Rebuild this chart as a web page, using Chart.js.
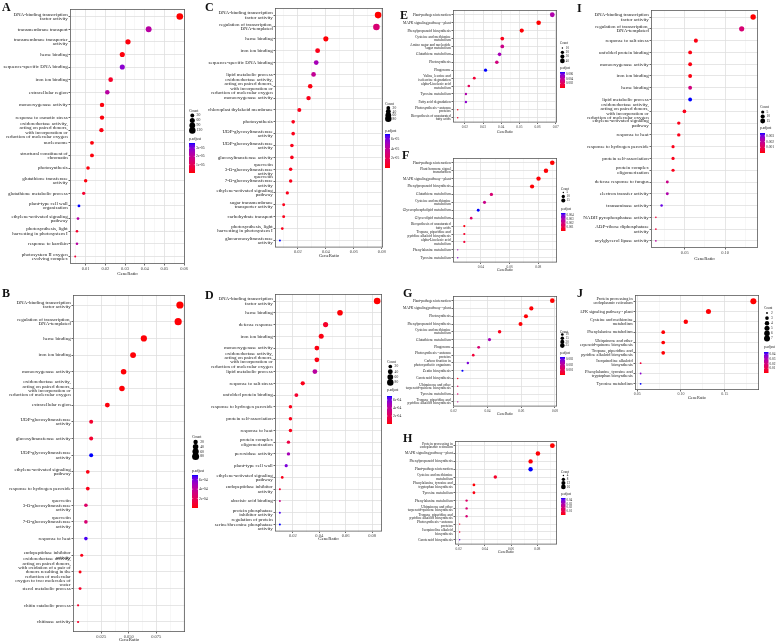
<!DOCTYPE html>
<html>
<head>
<meta charset="utf-8">
<script src="https://cdn.jsdelivr.net/npm/chart.js@4.4.0/dist/chart.umd.min.js"></script>
<style>
  body { margin: 0; background: #fff; }
  #fig { position: relative; width: 777px; height: 643px; overflow: hidden; background: #fff; }
  #fig canvas { position: absolute; }
  .tag { position: absolute; font-family: "Liberation Serif", serif; font-weight: bold; font-size: 12px; line-height: 12px; color: #111; }
</style>
</head>
<body>
<div id="fig"></div>
<script>
// ---------- panel A ----------
const termsA = ["DNA-binding transcription\nfactor activity", "transmembrane transport", "transmembrane transporter\nactivity", "heme binding", "sequence-specific DNA binding", "iron ion binding", "extracellular region", "monooxygenase activity", "response to osmotic stress", "oxidoreductase activity,\nacting on paired donors,\nwith incorporation or\nreduction of molecular oxygen", "nucleosome", "structural constituent of\nchromatin", "photosynthesis", "glutathione transferase\nactivity", "glutathione metabolic process", "plant-type cell wall\norganization", "ethylene-activated signaling\npathway", "photosynthesis, light\nharvesting in photosystem I", "response to karrikin", "photosystem II oxygen\nevolving complex"];
const ratioA = [0.0578, 0.0420, 0.0315, 0.0286, 0.0286, 0.0227, 0.0210, 0.0183, 0.0183, 0.0180, 0.0132, 0.0132, 0.0112, 0.0100, 0.0090, 0.0066, 0.0061, 0.0056, 0.0056, 0.0047];
const countA = [125, 91, 68, 62, 62, 49, 45, 40, 40, 39, 29, 29, 24, 22, 19, 14, 13, 12, 12, 10];
const padjA = [1e-9, 2.2e-5, 7e-7, 7e-7, 2.9e-5, 3.6e-6, 2.2e-5, 7e-7, 7e-7, 1.1e-6, 7e-7, 7e-7, 7e-7, 7e-7, 4.3e-6, 3.6e-5, 2.2e-5, 3.6e-6, 2.2e-5, 5.4e-6];
const ticksA = ["0.01", "0.02", "0.03", "0.04", "0.05", "0.06"];
const countKeysA = [30, 60, 90, 120];
const padjKeysA = ["3e-05", "2e-05", "1e-05"];

// ---------- panel B ----------
const termsB = ["DNA-binding transcription\nfactor activity", "regulation of transcription,\nDNA-templated", "heme binding", "iron ion binding", "monooxygenase activity", "oxidoreductase activity,\nacting on paired donors,\nwith incorporation or\nreduction of molecular oxygen", "extracellular region", "UDP-glucosyltransferase\nactivity", "glucosyltransferase activity", "UDP-glycosyltransferase\nactivity", "ethylene-activated signaling\npathway", "response to hydrogen peroxide", "quercetin\n3-O-glucosyltransferase\nactivity", "quercetin\n7-O-glucosyltransferase\nactivity", "response to heat", "endopeptidase inhibitor\nactivity", "oxidoreductase activity,\nacting on paired donors,\nwith oxidation of a pair of\ndonors resulting in the\nreduction of molecular\noxygen to two molecules of\nwater", "sterol metabolic process", "chitin catabolic process", "chitinase activity"];
const ratioB = [0.0965, 0.0949, 0.0637, 0.0539, 0.0453, 0.0438, 0.0305, 0.0158, 0.0158, 0.0158, 0.0127, 0.0127, 0.0110, 0.0110, 0.0110, 0.0072, 0.0057, 0.0057, 0.0039, 0.0039];
const countB = [85, 84, 56, 47, 40, 39, 27, 14, 14, 14, 11, 11, 10, 10, 10, 6, 5, 5, 3, 3];
const padjB = [1e-8, 7e-6, 7e-6, 7e-6, 7e-6, 7e-6, 1.4e-5, 8.4e-5, 8.4e-5, 7e-4, 2.1e-5, 3.5e-5, 2.45e-4, 2.8e-4, 6.65e-4, 3.5e-5, 2.1e-5, 7e-5, 7e-5, 7e-5];
const ticksB = ["0.025", "0.050", "0.075"];
const countKeysB = [20, 40, 60, 80];
const padjKeysB = ["6e-04", "4e-04", "2e-04"];

// ---------- panel C ----------
const termsC = ["DNA-binding transcription\nfactor activity", "regulation of transcription,\nDNA-templated", "heme binding", "iron ion binding", "sequence-specific DNA binding", "lipid metabolic process", "oxidoreductase activity,\nacting on paired donors,\nwith incorporation or\nreduction of molecular oxygen", "monooxygenase activity", "chloroplast thylakoid membrane", "photosynthesis", "UDP-glycosyltransferase\nactivity", "UDP-glucosyltransferase\nactivity", "glucosyltransferase activity", "quercetin\n3-O-glucosyltransferase\nactivity", "quercetin\n7-O-glucosyltransferase\nactivity", "ethylene-activated signaling\npathway", "sugar transmembrane\ntransporter activity", "carbohydrate transport", "photosynthesis, light\nharvesting in photosystem I", "glucuronosyltransferase\nactivity"];
const ratioC = [0.0774, 0.0762, 0.0400, 0.0341, 0.0331, 0.0312, 0.0288, 0.0276, 0.0210, 0.0166, 0.0166, 0.0157, 0.0157, 0.0148, 0.0148, 0.0124, 0.0098, 0.0098, 0.0088, 0.0071];
const countC = [85, 84, 44, 38, 36, 34, 32, 30, 23, 18, 18, 17, 17, 16, 16, 14, 11, 11, 10, 8];
const padjC = [1e-10, 2.8e-5, 7e-7, 3.5e-6, 4.9e-5, 3.85e-5, 2.1e-6, 3.5e-6, 3.5e-6, 3.5e-6, 3.5e-6, 3.5e-6, 3.5e-6, 3.5e-6, 3.5e-6, 3.5e-6, 3.5e-6, 3.5e-6, 3.5e-6, 7e-5];
const ticksC = ["0.02", "0.04", "0.06", "0.08"];
const countKeysC = [20, 40, 60, 80];
const padjKeysC = ["6e-05", "4e-05", "2e-05"];

// ---------- panel D ----------
const termsD = ["DNA-binding transcription\nfactor activity", "heme binding", "defense response", "iron ion binding", "monooxygenase activity", "oxidoreductase activity,\nacting on paired donors,\nwith incorporation or\nreduction of molecular oxygen", "lipid metabolic process", "response to salt stress", "unfolded protein binding", "response to hydrogen peroxide", "protein self-association", "response to heat", "protein complex\noligomerization", "peroxidase activity", "plant-type cell wall", "ethylene-activated signaling\npathway", "endopeptidase inhibitor\nactivity", "abscisic acid binding", "protein phosphatase\ninhibitor activity", "regulation of protein\nserine/threonine phosphatase\nactivity"];
const ratioD = [0.0838, 0.0557, 0.0448, 0.0415, 0.0382, 0.0382, 0.0367, 0.0275, 0.0227, 0.0182, 0.0182, 0.0182, 0.0167, 0.0167, 0.0150, 0.0120, 0.0102, 0.0102, 0.0102, 0.0102];
const countD = [84, 56, 45, 42, 38, 38, 37, 28, 23, 18, 18, 18, 17, 17, 15, 12, 10, 10, 10, 10];
const padjD = [1e-9, 7e-6, 7e-5, 2.1e-5, 2.1e-5, 2.1e-5, 4.2e-4, 3.5e-5, 8.4e-5, 3.5e-5, 3.5e-5, 3.5e-5, 1.4e-4, 4.9e-4, 5.95e-4, 3.5e-5, 1.05e-4, 3.5e-4, 6.65e-4, 7e-4];
const ticksD = ["0.02", "0.04", "0.06", "0.08"];
const countKeysD = [20, 40, 60, 80];
const padjKeysD = ["6e-04", "4e-04", "2e-04"];

// ---------- panel E ----------
const termsE = ["Plant-pathogen interaction", "MAPK signaling pathway - plant", "Phenylpropanoid biosynthesis", "Cysteine and methionine\nmetabolism", "Amino sugar and nucleotide\nsugar metabolism", "Glutathione metabolism", "Photosynthesis", "Phagosome", "Valine, leucine and\nisoleucine degradation", "alpha-Linolenic acid\nmetabolism", "Tyrosine metabolism", "Fatty acid degradation", "Photosynthesis - antenna\nproteins", "Biosynthesis of unsaturated\nfatty acids"];
const ratioE = [0.0681, 0.0606, 0.0513, 0.0406, 0.0406, 0.0391, 0.0376, 0.0314, 0.0252, 0.0222, 0.0206, 0.0206, 0.0161, 0.0161];
const countE = [42, 38, 32, 25, 25, 24, 23, 19, 16, 14, 13, 13, 10, 10];
const padjE = [0.00455, 0.000001, 0.00007, 0.00035, 0.0035, 0.0049, 0.00315, 0.007, 0.00105, 0.0021, 0.00455, 0.0056, 0.00035, 0.0007];
const ticksE = ["0.02", "0.03", "0.04", "0.05", "0.06", "0.07"];
const countKeysE = [10, 20, 30, 40];
const padjKeysE = ["0.006", "0.004", "0.002"];

// ---------- panel F ----------
const termsF = ["Plant-pathogen interaction", "Plant hormone signal\ntransduction", "MAPK signaling pathway - plant", "Phenylpropanoid biosynthesis", "Glutathione metabolism", "Cysteine and methionine\nmetabolism", "Glycerophospholipid metabolism", "Glycerolipid metabolism", "Biosynthesis of unsaturated\nfatty acids", "Tropane, piperidine and\npyridine alkaloid biosynthesis", "alpha-Linolenic acid\nmetabolism", "Phenylalanine metabolism", "Tyrosine metabolism"];
const ratioF = [0.0898, 0.0854, 0.0802, 0.0757, 0.0473, 0.0425, 0.0381, 0.0332, 0.0284, 0.0284, 0.0284, 0.0238, 0.0238];
const countF = [19, 18, 17, 16, 10, 9, 8, 7, 6, 6, 6, 5, 5];
const padjF = [0.000001, 0.000045, 0.000045, 0.000045, 0.0018, 0.00225, 0.0045, 0.001575, 0.000135, 0.00045, 0.000675, 0.00315, 0.0036];
const ticksF = ["0.04", "0.06", "0.08"];
const countKeysF = [5, 10, 15];
const padjKeysF = ["0.004", "0.003", "0.002", "0.001"];

// ---------- panel G ----------
const termsG = ["Plant-pathogen interaction", "MAPK signaling pathway - plant", "Photosynthesis", "Phenylpropanoid biosynthesis", "Cysteine and methionine\nmetabolism", "Glutathione metabolism", "Phagosome", "Photosynthesis - antenna\nproteins", "Carbon fixation in\nphotosynthetic organisms", "Zeatin biosynthesis", "Carotenoid biosynthesis", "Ubiquinone and other\nterpenoid-quinone biosynthesis", "Tyrosine metabolism", "Tropane, piperidine and\npyridine alkaloid biosynthesis"];
const ratioG = [0.0784, 0.0660, 0.0628, 0.0596, 0.0472, 0.0412, 0.0348, 0.0316, 0.0284, 0.0252, 0.0224, 0.0224, 0.0224, 0.0224];
const countG = [25, 21, 20, 19, 15, 13, 11, 10, 9, 8, 7, 7, 7, 7];
const padjG = [0.000001, 0.000035, 0.000035, 0.000035, 0.000175, 0.00245, 0.0014, 0.000525, 0.002975, 0.0035, 0.000175, 0.00105, 0.0014, 0.001925];
const ticksG = ["0.02", "0.04", "0.06", "0.08"];
const countKeysG = [10, 15, 20, 25];
const padjKeysG = ["0.003", "0.002", "0.001"];

// ---------- panel H ----------
const termsH = ["Protein processing in\nendoplasmic reticulum", "MAPK signaling pathway - plant", "Phenylpropanoid biosynthesis", "Plant-pathogen interaction", "Cysteine and methionine\nmetabolism", "Phenylalanine, tyrosine and\ntryptophan biosynthesis", "Tyrosine metabolism", "Phenylalanine metabolism", "Ubiquinone and other\nterpenoid-quinone biosynthesis", "Tropane, piperidine and\npyridine alkaloid biosynthesis", "Photosynthesis - antenna\nproteins", "Isoquinoline alkaloid\nbiosynthesis", "Carotenoid biosynthesis"];
const ratioH = [0.0915, 0.0805, 0.0749, 0.0749, 0.0480, 0.0317, 0.0317, 0.0261, 0.0261, 0.0261, 0.0208, 0.0208, 0.0208];
const countH = [17, 15, 14, 14, 9, 6, 6, 5, 5, 5, 4, 4, 4];
const padjH = [0.00001, 0.00045, 0.00045, 0.045, 0.0045, 0.00045, 0.00135, 0.01575, 0.018, 0.018, 0.0045, 0.0054, 0.0405];
const ticksH = ["0.02", "0.04", "0.06", "0.08"];
const countKeysH = [4, 8, 12, 16];
const padjKeysH = ["0.04", "0.03", "0.02", "0.01"];

// ---------- panel I ----------
const termsI = ["DNA-binding transcription\nfactor activity", "regulation of transcription,\nDNA-templated", "response to salt stress", "unfolded protein binding", "monooxygenase activity", "iron ion binding", "heme binding", "lipid metabolic process", "oxidoreductase activity,\nacting on paired donors,\nwith incorporation or\nreduction of molecular oxygen", "ethylene-activated signaling\npathway", "response to heat", "response to hydrogen peroxide", "protein self-association", "protein complex\noligomerization", "defense response to fungus", "electron transfer activity", "transaminase activity", "NADH pyrophosphatase activity", "ADP-ribose diphosphatase\nactivity", "acylglycerol lipase activity"];
const ratioI = [0.1348, 0.1206, 0.0638, 0.0567, 0.0567, 0.0567, 0.0567, 0.0567, 0.0496, 0.0426, 0.0426, 0.0355, 0.0355, 0.0355, 0.0284, 0.0284, 0.0213, 0.0142, 0.0142, 0.0142];
const countI = [19, 17, 9, 8, 8, 8, 8, 8, 7, 6, 6, 5, 5, 5, 4, 4, 3, 2, 2, 2];
const padjI = [0.0000001, 0.0014, 0.000105, 0.000105, 0.000105, 0.000105, 0.001575, 0.0035, 0.000175, 0.000175, 0.000175, 0.000175, 0.000175, 0.000175, 0.00175, 0.002275, 0.00315, 0.000525, 0.000525, 0.0021];
const ticksI = ["0.05", "0.10"];
const countKeysI = [5, 10, 15];
const padjKeysI = ["0.003", "0.002", "0.001"];

// ---------- panel J ----------
const termsJ = ["Protein processing in\nendoplasmic reticulum", "MAPK signaling pathway - plant", "Cysteine and methionine\nmetabolism", "Phenylalanine metabolism", "Ubiquinone and other\nterpenoid-quinone biosynthesis", "Tropane, piperidine and\npyridine alkaloid biosynthesis", "Isoquinoline alkaloid\nbiosynthesis", "Phenylalanine, tyrosine and\ntryptophan biosynthesis", "Tyrosine metabolism"];
const ratioJ = [0.1827, 0.1314, 0.1055, 0.0797, 0.0797, 0.0797, 0.0539, 0.0539, 0.0539];
const countJ = [7, 5, 4, 3, 3, 3, 2, 2, 2];
const padjJ = [0.0001, 0.00045, 0.00045, 0.00045, 0.00045, 0.00045, 0.00675, 0.036, 0.045];
const ticksJ = ["0.05", "0.10", "0.15"];
const countKeysJ = [2, 3, 4, 5, 6, 7];
const padjKeysJ = ["0.04", "0.03", "0.02", "0.01"];

const SERIF = "'Liberation Serif', 'Times New Roman', serif";
const fig = document.getElementById("fig");

// red -> blue gradient interpolated in Lab, like ggplot's scale_colour_gradient
function toLab(r, g, b) {
  const lin = c => { c /= 255; return c <= 0.04045 ? c / 12.92 : Math.pow((c + 0.055) / 1.055, 2.4); };
  const R = lin(r), G = lin(g), B = lin(b);
  const X = (0.4124 * R + 0.3576 * G + 0.1805 * B) / 0.95047;
  const Y = 0.2126 * R + 0.7152 * G + 0.0722 * B;
  const Z = (0.0193 * R + 0.1192 * G + 0.9505 * B) / 1.08883;
  const f = t => t > 0.008856 ? Math.cbrt(t) : 7.787 * t + 16 / 116;
  return [116 * f(Y) - 16, 500 * (f(X) - f(Y)), 200 * (f(Y) - f(Z))];
}
function fromLab(L, a, b) {
  const fy = (L + 16) / 116, fx = fy + a / 500, fz = fy - b / 200;
  const g = t => t * t * t > 0.008856 ? t * t * t : (t - 16 / 116) / 7.787;
  const X = g(fx) * 0.95047, Y = g(fy), Z = g(fz) * 1.08883;
  const R = 3.2406 * X - 1.5372 * Y - 0.4986 * Z;
  const G = -0.9689 * X + 1.8758 * Y + 0.0415 * Z;
  const B = 0.0557 * X - 0.2040 * Y + 1.0570 * Z;
  const k = c => { c = c <= 0.0031308 ? 12.92 * c : 1.055 * Math.pow(c, 1 / 2.4) - 0.055; return Math.round(255 * Math.min(1, Math.max(0, c))); };
  return "rgb(" + k(R) + "," + k(G) + "," + k(B) + ")";
}
const LOW = toLab(255, 0, 0), HIGH = toLab(0, 0, 255);
const shade = t => fromLab(...LOW.map((v, i) => v + (HIGH[i] - v) * Math.min(1, Math.max(0, t))));

function addTag(text, x, y) {
  const d = document.createElement("div");
  d.className = "tag";
  d.textContent = text;
  d.style.left = x + "px";
  d.style.top = y + "px";
  fig.appendChild(d);
}

function addPanel(p) {
  const n = p.terms.length;
  const xLo = Math.min(...p.ratio), xHi = Math.max(...p.ratio), xPad = (xHi - xLo) * 0.05;
  const cLo = Math.min(...p.count), cHi = Math.max(...p.count);
  const qLo = Math.min(...p.padj), qHi = Math.max(...p.padj);
  const radius = c => p.R * (0.3 + 0.7 * Math.sqrt(Math.min(1, Math.max(0, (c - cLo) / (cHi - cLo)))));
  const tone = q => shade((q - qLo) / (qHi - qLo));

  // major ticks + minor grid between them
  const majors = p.ticks.map(Number);
  const isMajor = v => majors.some(m => Math.abs(m - v) < 1e-9);
  const step = majors[1] - majors[0];
  const gridAt = [];
  for (let v = majors[0] - step; v <= majors[majors.length - 1] + step + 1e-9; v += step / 2) {
    if (v >= xLo - xPad && v <= xHi + xPad) gridAt.push(Number(v.toFixed(6)));
  }

  const [bx0, by0, bx1, by1] = p.box;
  const lg = p.leg;
  const L = bx0 - p.labelW, T = by0 - 1;
  const Rx = Math.max(bx1 + 2, lg.x + 20);
  const cv = document.createElement("canvas");
  cv.width = Rx - L;
  cv.height = by1 + p.axisH - T;
  cv.style.left = L + "px";
  cv.style.top = T + "px";
  fig.appendChild(cv);

  const noPad = s => { s.paddingLeft = 0; s.paddingRight = 0; s.paddingTop = 0; s.paddingBottom = 0; };

  new Chart(cv, {
    type: "scatter",
    data: {
      datasets: [{
        data: p.ratio.map((x, i) => ({ x: x, y: i })),
        pointRadius: ctx => radius(p.count[ctx.dataIndex]),
        pointHoverRadius: ctx => radius(p.count[ctx.dataIndex]),
        backgroundColor: ctx => tone(p.padj[ctx.dataIndex]),
        borderWidth: 0
      }]
    },
    options: {
      responsive: false,
      animation: false,
      devicePixelRatio: 1,
      events: [],
      layout: { autoPadding: false, padding: { top: 1, right: Rx - bx1, left: 0, bottom: 0 } },
      plugins: { legend: { display: false }, tooltip: { enabled: false } },
      scales: {
        x: {
          type: "linear",
          min: xLo - xPad,
          max: xHi + xPad,
          afterBuildTicks: s => { s.ticks = gridAt.map(v => ({ value: v })); },
          afterFit: s => { s.height = p.axisH; noPad(s); },
          border: { display: false },
          grid: {
            color: c => isMajor(c.tick.value) ? "#e0e0e0" : "#efefef",
            lineWidth: c => isMajor(c.tick.value) ? 0.8 : 0.5,
            tickLength: 1.5,
            tickColor: c => isMajor(c.tick.value) ? "#444" : "rgba(0,0,0,0)"
          },
          ticks: {
            autoSkip: false, maxRotation: 0, minRotation: 0, padding: 0.5,
            color: "#444",
            font: { family: SERIF, size: p.tickFont },
            callback: v => { const i = majors.findIndex(m => Math.abs(m - v) < 1e-9); return i < 0 ? "" : p.ticks[i]; }
          },
          title: { display: true, text: "GeneRatio", color: "#1a1a1a", font: { family: SERIF, size: p.titleFont }, padding: { top: 0, bottom: 0 } }
        },
        y: {
          type: "linear",
          reverse: true,
          min: -0.6,
          max: n - 0.4,
          afterBuildTicks: s => { s.ticks = p.terms.map((t, i) => ({ value: i })); },
          afterFit: s => { s.width = p.labelW; noPad(s); },
          border: { display: false },
          grid: { color: "#e0e0e0", lineWidth: 0.8, tickLength: 1.5, tickColor: "#444" },
          ticks: {
            autoSkip: false, padding: 0.8,
            color: "#1a1a1a",
            font: { family: SERIF, size: p.font, lineHeight: p.lineH },
            callback: v => p.terms[v].split("\n")
          }
        }
      }
    },
    plugins: [{
      id: "frameAndKeys",
      afterDatasetsDraw(ch) {
        const a = ch.chartArea, c = ch.ctx;
        c.save();
        c.strokeStyle = "#5a5a5a";
        c.lineWidth = 0.8;
        c.strokeRect(a.left + 0.4, a.top + 0.4, a.right - a.left - 0.8, a.bottom - a.top - 0.8);
        c.restore();
      },
      afterDraw(ch) {
        const c = ch.ctx;
        const x = lg.x - L;
        c.save();
        c.font = lg.font + "px " + SERIF;
        c.textBaseline = "middle";
        c.textAlign = "left";
        c.fillStyle = "#1a1a1a";
        c.fillText("Count", x, lg.y - T);
        const rMax = radius(cHi);
        p.countKeys.forEach((k, i) => {
          const cy = lg.d0 - T + lg.row * i;
          c.beginPath();
          c.arc(x + rMax, cy, radius(k), 0, Math.PI * 2);
          c.fillStyle = "#000";
          c.fill();
          c.fillStyle = "#1a1a1a";
          c.fillText(String(k), x + rMax * 2 + 1, cy);
        });
        c.fillText("p.adjust", x, lg.py - T);
        const top = lg.by - T;
        const grad = c.createLinearGradient(0, top, 0, top + lg.bh);
        for (let s = 0; s <= 20; s++) grad.addColorStop(s / 20, shade(1 - s / 20));
        c.fillStyle = grad;
        c.fillRect(x, top, lg.bw, lg.bh);
        p.padjKeys.forEach(k => {
          const yy = top + lg.bh * (1 - (Number(k) - qLo) / (qHi - qLo));
          c.strokeStyle = "#fff";
          c.lineWidth = 0.4;
          c.beginPath();
          c.moveTo(x, yy); c.lineTo(x + lg.bw * 0.2, yy);
          c.moveTo(x + lg.bw * 0.8, yy); c.lineTo(x + lg.bw, yy);
          c.stroke();
          c.fillStyle = "#1a1a1a";
          c.fillText(k, x + lg.bw + 1, yy);
        });
        c.restore();
      }
    }]
  });
  addTag(p.tag, p.tagAt[0], p.tagAt[1]);
}

const big = { font: 5, lineH: 0.86, tickFont: 4.5, titleFont: 4.8 };
const small = { font: 3.6, lineH: 0.95, tickFont: 3.5, titleFont: 3.7 };

const panels = [
  { tag: "A", tagAt: [2, 0.5], terms: termsA, ratio: ratioA, count: countA, padj: padjA, ticks: ticksA, countKeys: countKeysA, padjKeys: padjKeysA,
    box: [70, 9, 185, 264], labelW: 70, axisH: 13, R: 3.3, ...big,
    leg: { x: 189, y: 111, d0: 115.5, row: 5, py: 139.5, by: 143, bh: 30, bw: 6, font: 3.8 } },
  { tag: "B", tagAt: [2, 286.5], terms: termsB, ratio: ratioB, count: countB, padj: padjB, ticks: ticksB, countKeys: countKeysB, padjKeys: padjKeysB,
    box: [73, 295, 185, 632], labelW: 73, axisH: 11, R: 3.6, ...big,
    leg: { x: 192, y: 437, d0: 442, row: 4.8, py: 471.5, by: 475, bh: 33, bw: 6, font: 3.8 } },
  { tag: "C", tagAt: [205, 0.5], terms: termsC, ratio: ratioC, count: countC, padj: padjC, ticks: ticksC, countKeys: countKeysC, padjKeys: padjKeysC,
    box: [275, 8, 383, 248], labelW: 85, axisH: 11.5, R: 3.3, ...big,
    leg: { x: 385, y: 104, d0: 108, row: 3.6, py: 131, by: 134, bh: 34, bw: 5, font: 3.6 } },
  { tag: "D", tagAt: [205, 288.5], terms: termsD, ratio: ratioD, count: countD, padj: padjD, ticks: ticksD, countKeys: countKeysD, padjKeys: padjKeysD,
    box: [275, 294, 382, 532], labelW: 85, axisH: 10.5, R: 3.3, ...big,
    leg: { x: 387, y: 362, d0: 366.5, row: 5.3, py: 390.5, by: 396, bh: 28, bw: 5, font: 3.6 } },
  { tag: "E", tagAt: [400, 8.5], terms: termsE, ratio: ratioE, count: countE, padj: padjE, ticks: ticksE, countKeys: countKeysE, padjKeys: padjKeysE,
    box: [453, 10, 557, 123], labelW: 68, axisH: 11.5, R: 2.4, ...small,
    leg: { x: 560, y: 43.5, d0: 48, row: 4.3, py: 68, by: 72, bh: 16, bw: 5, font: 3.2 } },
  { tag: "F", tagAt: [402, 148.5], terms: termsF, ratio: ratioF, count: countF, padj: padjF, ticks: ticksF, countKeys: countKeysF, padjKeys: padjKeysF,
    box: [453, 158, 557, 263], labelW: 68, axisH: 9.5, R: 2.3, ...small,
    leg: { x: 561, y: 189, d0: 192.5, row: 4, py: 209.5, by: 213, bh: 18, bw: 4.5, font: 3.2 } },
  { tag: "G", tagAt: [403, 286.5], terms: termsG, ratio: ratioG, count: countG, padj: padjG, ticks: ticksG, countKeys: countKeysG, padjKeys: padjKeysG,
    box: [453, 296, 557, 407], labelW: 68, axisH: 9.5, R: 2.3, ...small,
    leg: { x: 560, y: 332, d0: 334.5, row: 3.7, py: 353, by: 357, bh: 18, bw: 5, font: 3.2 } },
  { tag: "H", tagAt: [403, 431.5], terms: termsH, ratio: ratioH, count: countH, padj: padjH, ticks: ticksH, countKeys: countKeysH, padjKeys: padjKeysH,
    box: [455, 441, 557, 545], labelW: 70, axisH: 9.5, R: 2.4, ...small,
    leg: { x: 561, y: 472, d0: 475.5, row: 3.8, py: 494.5, by: 498, bh: 17, bw: 4.5, font: 3.2 } },
  { tag: "I", tagAt: [577, 1.5], terms: termsI, ratio: ratioI, count: countI, padj: padjI, ticks: ticksI, countKeys: countKeysI, padjKeys: padjKeysI,
    box: [651, 10, 758, 248], labelW: 71, axisH: 14, R: 2.7, ...big,
    leg: { x: 760, y: 107, d0: 112, row: 4.5, py: 128, by: 133, bh: 20, bw: 5, font: 3.6 } },
  { tag: "J", tagAt: [577, 286.5], terms: termsJ, ratio: ratioJ, count: countJ, padj: padjJ, ticks: ticksJ, countKeys: countKeysJ, padjKeys: padjKeysJ,
    box: [635, 295, 759, 390], labelW: 55, axisH: 10, R: 3.0, font: 4.3, lineH: 0.9, tickFont: 4, titleFont: 4.2,
    leg: { x: 764, y: 308, d0: 313, row: 5.1, py: 347.5, by: 352, bh: 21, bw: 4.5, font: 3.4 } }
];

panels.forEach(addPanel);
</script>
</body>
</html>
